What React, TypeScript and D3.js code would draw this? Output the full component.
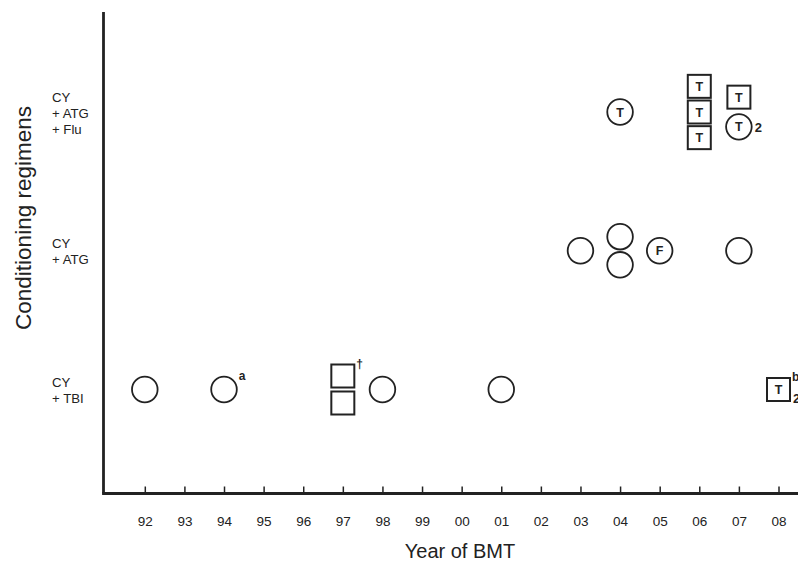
import React, { useEffect, useRef } from "react";
import * as d3 from "d3";

// ---- data ----
const yearTicks = [1992, 1993, 1994, 1995, 1996, 1997, 1998, 1999, 2000, 2001, 2002, 2003, 2004, 2005, 2006, 2007, 2008];
const yearTickLabels = ["92", "93", "94", "95", "96", "97", "98", "99", "00", "01", "02", "03", "04", "05", "06", "07", "08"];

const regimenLevels = [1, 2, 3];
const regimenLabels = [
  ["CY", "+ TBI"],
  ["CY", "+ ATG"],
  ["CY", "+ ATG", "+ Flu"],
];

// each patient: year, regimen level, shape, inner letter, stack slot, note
const pointYears = [1992, 1994, 1997, 1997, 1998, 2001, 2008, 2003, 2004, 2004, 2005, 2007, 2004, 2006, 2006, 2006, 2007, 2007];
const pointRegimens = [1, 1, 1, 1, 1, 1, 1, 2, 2, 2, 2, 2, 3, 3, 3, 3, 3, 3];
const pointShapes = ["c", "c", "s", "s", "c", "c", "s", "c", "c", "c", "c", "c", "c", "s", "s", "s", "s", "c"];
const pointLetters = ["", "", "", "", "", "", "T", "", "", "", "F", "", "T", "T", "T", "T", "T", "T"];
const pointSlots = [0, 0, -0.5, 0.5, 0, 0, 0, 0, -0.52, 0.52, 0, 0, 0, -0.95, 0, 0.95, -0.55, 0.55];
const pointSupNotes = ["", "a", "†", "", "", "", "b", "", "", "", "", "", "", "", "", "", "", ""];
const pointSubNotes = ["", "", "", "", "", "", "2", "", "", "", "", "", "", "", "", "", "", "2"];

const xTitle = "Year of BMT";
const yTitle = "Conditioning regimens";

export default function App() {
  const ref = useRef<SVGSVGElement | null>(null);

  useEffect(() => {
    const svg = d3.select(ref.current);
    svg.selectAll("*").remove();
    const W = 798, H = 561;
    const ink = "#222";
    const font = "'Liberation Sans', Arial, sans-serif";

    const x = d3.scaleLinear().domain([1992, 2008]).range([144.8, 778.5]);
    const y = d3.scaleLinear().domain([1, 3]).range([389.5, 112]);
    const axisY = 493.5;
    const axisX = 103.5;
    const slotPx = 27;
    const r = 12.8;
    const side = 23;

    svg.append("rect").attr("width", W).attr("height", H).attr("fill", "#fff");

    // y axis line
    svg.append("line")
      .attr("x1", axisX).attr("x2", axisX)
      .attr("y1", 12).attr("y2", axisY)
      .attr("stroke", ink).attr("stroke-width", 2.8);

    // x axis
    const xAxis = d3.axisBottom(x)
      .tickValues(yearTicks)
      .tickFormat((d, i) => yearTickLabels[i])
      .tickSizeInner(-7)
      .tickSizeOuter(0)
      .tickPadding(22.5);
    const gx = svg.append("g").attr("transform", `translate(0,${axisY})`).call(xAxis);
    gx.select(".domain").remove();
    gx.selectAll(".tick line").attr("stroke", ink).attr("stroke-width", 1.5);
    gx.selectAll(".tick text")
      .attr("fill", ink)
      .attr("font-family", font)
      .attr("font-size", 13.5);
    svg.append("line")
      .attr("x1", axisX - 1.4).attr("x2", W)
      .attr("y1", axisY).attr("y2", axisY)
      .attr("stroke", ink).attr("stroke-width", 2.8);

    // regimen labels
    regimenLevels.forEach((lv, i) => {
      const lines = regimenLabels[i];
      const n = lines.length;
      const t = svg.append("text")
        .attr("font-family", font)
        .attr("font-size", 13.2)
        .attr("fill", ink);
      lines.forEach((ln, j) => {
        t.append("tspan")
          .attr("x", 52)
          .attr("y", y(lv) + (j - (n - 1) / 2) * 16 + 5.5)
          .text(ln);
      });
    });

    // titles
    svg.append("text")
      .attr("x", 460).attr("y", 558)
      .attr("text-anchor", "middle")
      .attr("font-family", font).attr("font-size", 20)
      .attr("fill", ink)
      .text(xTitle);
    svg.append("text")
      .attr("transform", `translate(31,218) rotate(-90)`)
      .attr("text-anchor", "middle")
      .attr("font-family", font).attr("font-size", 22.5)
      .attr("fill", ink)
      .text(yTitle);

    // points
    pointYears.forEach((yr, i) => {
      const cx = x(yr);
      const cy = y(pointRegimens[i]) + pointSlots[i] * slotPx;
      const g = svg.append("g");
      if (pointShapes[i] === "c") {
        g.append("circle").attr("cx", cx).attr("cy", cy).attr("r", r)
          .attr("fill", "#fff").attr("stroke", ink).attr("stroke-width", 1.8);
      } else {
        g.append("rect").attr("x", cx - side / 2).attr("y", cy - side / 2)
          .attr("width", side).attr("height", side)
          .attr("fill", "#fff").attr("stroke", ink).attr("stroke-width", 2);
      }
      if (pointLetters[i]) {
        g.append("text").attr("x", cx).attr("y", cy + 4.5)
          .attr("text-anchor", "middle")
          .attr("font-family", font).attr("font-size", 12.5).attr("font-weight", "bold")
          .attr("fill", ink)
          .text(pointLetters[i]);
      }
      const ext = pointShapes[i] === "c" ? r : side / 2;
      if (pointSupNotes[i]) {
        g.append("text").attr("x", cx + ext + 2).attr("y", cy - ext + 3)
          .attr("font-family", font).attr("font-size", 12).attr("font-weight", "bold")
          .attr("fill", ink)
          .text(pointSupNotes[i]);
      }
      if (pointSubNotes[i]) {
        g.append("text").attr("x", cx + ext + 3).attr("y", cy + (pointSupNotes[i] ? 13 : 5))
          .attr("font-family", font).attr("font-size", 13).attr("font-weight", "bold")
          .attr("fill", ink)
          .text(pointSubNotes[i]);
      }
    });
  }, []);

  return (
    <svg ref={ref} width={798} height={561} style={{ position: "absolute", left: 0, top: 0 }} />
  );
}
